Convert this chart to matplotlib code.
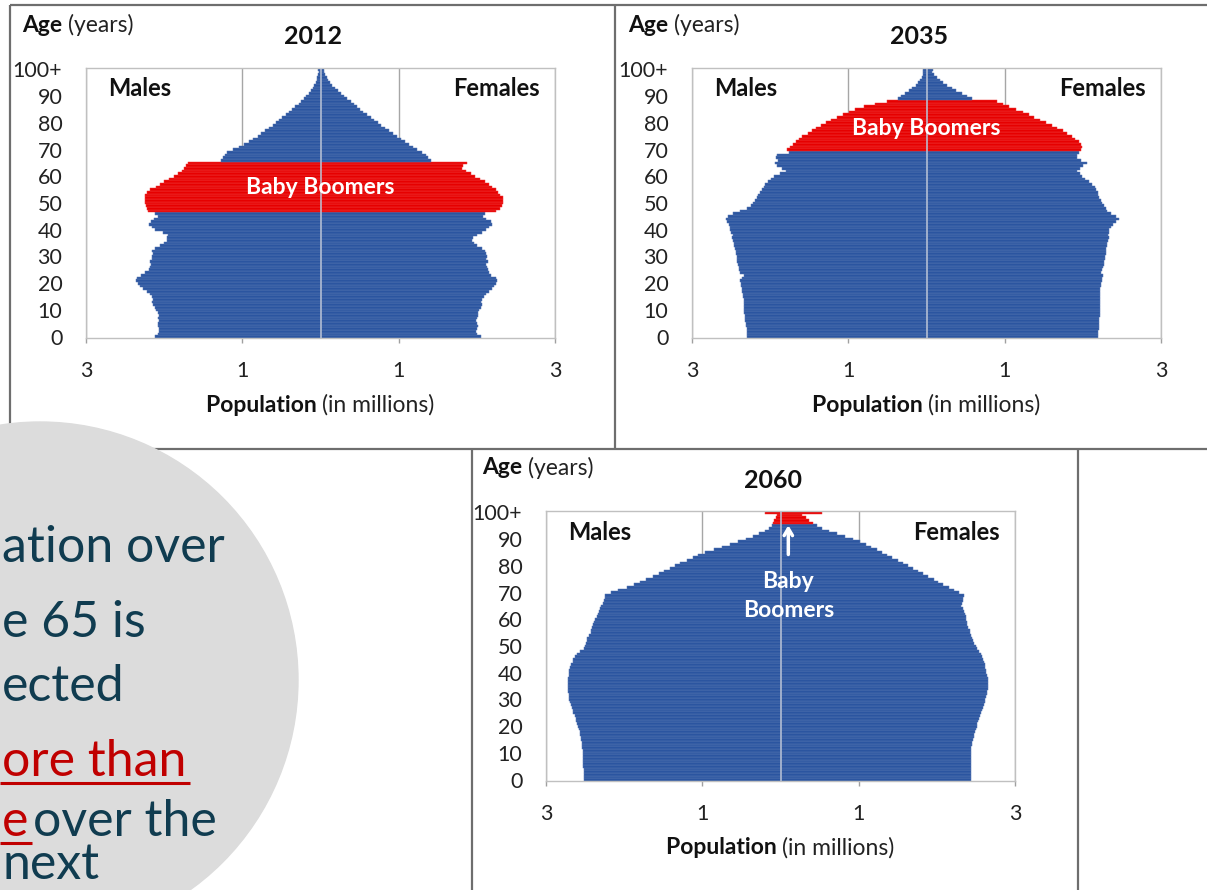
import matplotlib
matplotlib.use("Agg")
import matplotlib.pyplot as plt
from matplotlib.patches import Circle

plt.rcParams["font.family"] = ["Lato", "DejaVu Sans"]

W, H = 1207, 890

AGES = list(range(101))
AGE_TICKS = list(range(0, 101, 10))
AGE_TICK_LABELS = [str(a) for a in range(0, 100, 10)] + ["100+"]
POP_TICKS = [-3, -1, 1, 3]
POP_TICK_LABELS = ["3", "1", "1", "3"]

# population by single year of age, millions
MALES_2012 = [
    2.12, 2.08, 2.07, 2.07, 2.08, 2.08, 2.07, 2.08, 2.07, 2.08,
    2.10, 2.12, 2.14, 2.15, 2.14, 2.16, 2.18, 2.22, 2.27, 2.31,
    2.34, 2.36, 2.35, 2.30, 2.24, 2.20, 2.18, 2.17, 2.18, 2.16,
    2.15, 2.14, 2.15, 2.12, 2.05, 2.00, 1.96, 1.97, 1.95, 2.02,
    2.12, 2.16, 2.19, 2.17, 2.13, 2.08, 2.12, 2.21, 2.22, 2.23,
    2.24, 2.25, 2.25, 2.24, 2.22, 2.18, 2.10, 2.05, 2.00, 1.94,
    1.88, 1.82, 1.77, 1.75, 1.72, 1.70, 1.27, 1.25, 1.22, 1.20,
    1.12, 1.04, 0.98, 0.92, 0.86, 0.80, 0.76, 0.71, 0.66, 0.61,
    0.57, 0.53, 0.49, 0.44, 0.40, 0.36, 0.32, 0.28, 0.25, 0.21,
    0.18, 0.15, 0.12, 0.10, 0.08, 0.06, 0.05, 0.04, 0.03, 0.02,
    0.03,
]
FEMALES_2012 = [
    2.05, 2.00, 1.99, 2.00, 2.01, 2.00, 1.99, 2.00, 2.01, 2.02,
    2.03, 2.05, 2.06, 2.05, 2.07, 2.09, 2.12, 2.15, 2.19, 2.22,
    2.24, 2.26, 2.24, 2.18, 2.15, 2.14, 2.13, 2.12, 2.14, 2.12,
    2.13, 2.12, 2.10, 2.06, 2.00, 1.96, 1.94, 1.95, 2.00, 2.06,
    2.12, 2.16, 2.19, 2.18, 2.12, 2.08, 2.10, 2.25, 2.30, 2.32,
    2.33, 2.34, 2.33, 2.30, 2.27, 2.24, 2.20, 2.16, 2.10, 2.04,
    1.98, 1.92, 1.86, 1.81, 1.82, 1.87, 1.41, 1.38, 1.35, 1.30,
    1.24, 1.18, 1.13, 1.08, 1.03, 0.98, 0.93, 0.88, 0.83, 0.78,
    0.74, 0.69, 0.65, 0.60, 0.55, 0.51, 0.47, 0.43, 0.39, 0.34,
    0.30, 0.26, 0.22, 0.19, 0.15, 0.12, 0.10, 0.08, 0.06, 0.04,
    0.05,
]
MALES_2035 = [
    2.29, 2.29, 2.30, 2.30, 2.31, 2.31, 2.32, 2.32, 2.32, 2.33,
    2.33, 2.33, 2.34, 2.34, 2.34, 2.35, 2.35, 2.36, 2.36, 2.37,
    2.37, 2.38, 2.36, 2.33, 2.38, 2.40, 2.40, 2.41, 2.42, 2.42,
    2.43, 2.44, 2.44, 2.45, 2.46, 2.46, 2.47, 2.49, 2.48, 2.50,
    2.51, 2.52, 2.53, 2.55, 2.56, 2.54, 2.47, 2.38, 2.30, 2.25,
    2.22, 2.19, 2.17, 2.15, 2.13, 2.10, 2.08, 2.06, 2.03, 1.99,
    1.95, 1.88, 1.80, 1.85, 1.91, 1.94, 1.90, 1.93, 1.91, 1.76,
    1.78, 1.75, 1.71, 1.67, 1.63, 1.59, 1.52, 1.46, 1.42, 1.35,
    1.29, 1.22, 1.14, 1.07, 0.99, 0.91, 0.80, 0.66, 0.50, 0.37,
    0.32, 0.27, 0.22, 0.18, 0.14, 0.11, 0.08, 0.06, 0.05, 0.04,
    0.05,
]
FEMALES_2035 = [
    2.20, 2.20, 2.20, 2.21, 2.21, 2.21, 2.21, 2.21, 2.22, 2.22,
    2.22, 2.22, 2.22, 2.22, 2.22, 2.22, 2.22, 2.22, 2.22, 2.23,
    2.23, 2.24, 2.25, 2.26, 2.23, 2.25, 2.26, 2.27, 2.27, 2.28,
    2.28, 2.29, 2.29, 2.30, 2.31, 2.31, 2.32, 2.33, 2.32, 2.33,
    2.34, 2.36, 2.38, 2.42, 2.46, 2.43, 2.36, 2.31, 2.29, 2.27,
    2.25, 2.23, 2.21, 2.20, 2.19, 2.17, 2.15, 2.12, 2.08, 2.03,
    1.99, 1.96, 1.93, 1.97, 2.00, 2.05, 1.98, 1.93, 1.92, 1.95,
    1.98, 1.99, 1.98, 1.95, 1.90, 1.86, 1.80, 1.75, 1.67, 1.60,
    1.53, 1.45, 1.38, 1.31, 1.24, 1.14, 1.06, 0.98, 0.90, 0.58,
    0.52, 0.45, 0.38, 0.32, 0.26, 0.21, 0.17, 0.13, 0.10, 0.07,
    0.08,
]
MALES_2060 = [
    2.52, 2.52, 2.52, 2.52, 2.52, 2.53, 2.53, 2.53, 2.53, 2.53,
    2.53, 2.53, 2.54, 2.54, 2.54, 2.55, 2.55, 2.56, 2.57, 2.58,
    2.59, 2.60, 2.61, 2.62, 2.63, 2.65, 2.66, 2.67, 2.68, 2.69,
    2.70, 2.70, 2.71, 2.72, 2.72, 2.72, 2.72, 2.72, 2.72, 2.71,
    2.71, 2.70, 2.69, 2.68, 2.66, 2.65, 2.63, 2.60, 2.57, 2.52,
    2.50, 2.49, 2.48, 2.47, 2.45, 2.43, 2.42, 2.41, 2.40, 2.38,
    2.37, 2.35, 2.34, 2.32, 2.31, 2.29, 2.27, 2.26, 2.25, 2.24,
    2.17, 2.08, 1.97, 1.88, 1.80, 1.72, 1.63, 1.56, 1.49, 1.42,
    1.35, 1.28, 1.20, 1.12, 1.05, 0.96, 0.85, 0.75, 0.64, 0.54,
    0.44, 0.35, 0.27, 0.20, 0.15, 0.11, 0.10, 0.08, 0.06, 0.05,
    0.20,
]
FEMALES_2060 = [
    2.44, 2.44, 2.44, 2.44, 2.44, 2.44, 2.44, 2.44, 2.44, 2.44,
    2.44, 2.44, 2.44, 2.45, 2.45, 2.46, 2.47, 2.48, 2.49, 2.50,
    2.51, 2.52, 2.53, 2.54, 2.55, 2.56, 2.58, 2.59, 2.60, 2.61,
    2.62, 2.63, 2.64, 2.64, 2.65, 2.65, 2.65, 2.65, 2.65, 2.64,
    2.63, 2.63, 2.62, 2.61, 2.60, 2.59, 2.58, 2.56, 2.54, 2.52,
    2.50, 2.48, 2.46, 2.45, 2.44, 2.43, 2.42, 2.40, 2.39, 2.38,
    2.37, 2.37, 2.36, 2.35, 2.33, 2.31, 2.32, 2.33, 2.34, 2.35,
    2.28, 2.22, 2.15, 2.08, 2.02, 1.96, 1.89, 1.82, 1.76, 1.70,
    1.63, 1.57, 1.50, 1.43, 1.36, 1.30, 1.23, 1.16, 1.09, 1.02,
    0.93, 0.82, 0.72, 0.62, 0.53, 0.47, 0.42, 0.37, 0.32, 0.28,
    0.53,
]

# first and last age of the baby-boomer cohort in each year
BOOMERS_2012 = (47, 65)
BOOMERS_2035 = (70, 88)
BOOMERS_2060 = (96, 100)

BLUE = "#2b55a0"
BLUE_EDGE = "#5677b4"
RED = "#e60000"
RED_EDGE = "#f03a3a"
DARK = "#103c50"
CIRCLE_RED = "#c00000"

fig = plt.figure(figsize=(W / 100, H / 100), dpi=100)
renderer = fig.canvas.get_renderer()


def fx(x):
    return x / W


def fy(y):
    return 1 - y / H


def two_part(x, y, bold, regular, size, ha="left"):
    """Bold word followed by regular text, like 'Age (years)'."""
    tb = fig.text(0, 0, bold + " ", fontsize=size, fontweight="bold", va="center",
                  color="#111111")
    tr = fig.text(0, 0, regular, fontsize=size, va="center", color="#222222")
    wb = tb.get_window_extent(renderer).width
    wr = tr.get_window_extent(renderer).width
    start = x if ha == "left" else x - (wb + wr) / 2
    tb.set_position((fx(start), fy(y)))
    tr.set_position((fx(start + wb), fy(y)))


# page background: panel frames and the grey circle
bg = fig.add_axes([0, 0, 1, 1], zorder=0)
bg.set_xlim(0, W)
bg.set_ylim(H, 0)
bg.axis("off")
frame = dict(color="#6e6e6e", lw=1.6, solid_capstyle="butt")
bg.plot([10, W], [5, 5], **frame)
bg.plot([10, 10], [5, 449], **frame)
bg.plot([615, 615], [5, 449], **frame)
bg.plot([10, W], [449, 449], **frame)
bg.plot([472, 472], [449, H], **frame)
bg.plot([1078, 1078], [449, H], **frame)
bg.add_patch(Circle((40, 680), 258, color="#dcdcdc", zorder=5))


def pyramid(left, top, year, males, females, boomers, label_age):
    x0, x1 = left, left + 469
    y0, y1 = top, top + 270
    ax = fig.add_axes([fx(x0), fy(y1), (x1 - x0) / W, (y1 - y0) / H], zorder=2)
    lo, hi = boomers
    colors = [RED if lo <= a <= hi else BLUE for a in AGES]
    edges = [RED_EDGE if lo <= a <= hi else BLUE_EDGE for a in AGES]
    ax.barh(AGES, [-m for m in males], height=1.0, color=colors,
            edgecolor=edges, linewidth=0.35, zorder=2)
    ax.barh(AGES, females, height=1.0, color=colors,
            edgecolor=edges, linewidth=0.35, zorder=2)
    ax.axvline(0, color="#b9c3d6", lw=1.1, zorder=3)
    ax.set_xlim(-3, 3)
    ax.set_ylim(-0.5, 100.5)
    ax.set_xticks(POP_TICKS)
    ax.set_xticklabels(POP_TICK_LABELS)
    ax.set_yticks(AGE_TICKS)
    ax.set_yticklabels(AGE_TICK_LABELS)
    ax.tick_params(axis="x", length=3.5, width=1, color="#a0a0a0",
                   pad=13, labelsize=15.5, labelcolor="#222222")
    ax.tick_params(axis="y", length=0, pad=17, labelsize=15.5,
                   labelcolor="#222222")
    ax.set_axisbelow(True)
    ax.xaxis.grid(True, color="#a6a6a6", lw=1)
    for s in ax.spines.values():
        s.set_color("#c0c0c0")
        s.set_linewidth(1)

    fig.text(fx(left + 227), fy(top - 31), year, fontsize=18,
             fontweight="bold", ha="center", va="center", color="#111111")
    two_part(left - 64, top - 43, "Age", "(years)", 16.5)
    two_part(left + 234, top + 337, "Population", "(in millions)", 16.5, ha="center")
    fig.text(fx(left + 22), fy(top + 21), "Males", fontsize=17,
             fontweight="bold", ha="left", va="center", color="#111111")
    fig.text(fx(left + 454), fy(top + 21), "Females", fontsize=17,
             fontweight="bold", ha="right", va="center", color="#111111")
    if label_age is not None:
        ax.text(0, label_age, "Baby Boomers", fontsize=16.5, fontweight="bold",
                color="white", ha="center", va="center", zorder=4)
    return ax


pyramid(86, 68, "2012", MALES_2012, FEMALES_2012, BOOMERS_2012, 55.8)
pyramid(692, 68, "2035", MALES_2035, FEMALES_2035, BOOMERS_2035, 77.9)
ax3 = pyramid(546, 511, "2060", MALES_2060, FEMALES_2060, BOOMERS_2060, None)
ax3.annotate("", xy=(0.1, 96.2), xytext=(0.1, 83.2),
             arrowprops=dict(arrowstyle="->, head_length=0.5, head_width=0.3",
                             color="white", lw=2.5), zorder=4)
ax3.text(0.1, 68.6, "Baby\nBoomers", fontsize=16.5, fontweight="bold",
         color="white", ha="center", va="center", linespacing=1.45, zorder=4)

# text in the grey circle (the slide cuts the start of each line)
circ = dict(fontsize=36, va="baseline", zorder=6, family=["Lato", "DejaVu Sans"])
bg.text(2, 562, "ation over", color=DARK, ha="left", **circ)
bg.text(2, 637, "e 65 is", color=DARK, ha="left", **circ)
bg.text(2, 701, "ected", color=DARK, ha="left", **circ)
t_more = bg.text(2, 776, "ore than", color=CIRCLE_RED, ha="left", **circ)
t_dbl = bg.text(2, 836, "e", color=CIRCLE_RED, ha="left", **circ)
t_over = bg.text(33, 836, "over the", color=DARK, ha="left", **circ)
t_next = bg.text(2, 800, "next", color=DARK, ha="left", **circ)

# sit the last line on the bottom edge of the slide without leaving it
nb = t_next.get_window_extent(renderer)
descent = nb.height * 0.2
t_next.set_position((2, H - 2 - descent))

inv = bg.transData.inverted()
for t, y in [(t_more, 783), (t_dbl, 843)]:
    bb = t.get_window_extent(renderer)
    xb, _ = inv.transform((bb.x1, 0))
    bg.plot([0, xb + 4], [y, y], color=CIRCLE_RED, lw=2.2, zorder=6,
            solid_capstyle="butt")

fig.savefig("out.png", dpi=100)
